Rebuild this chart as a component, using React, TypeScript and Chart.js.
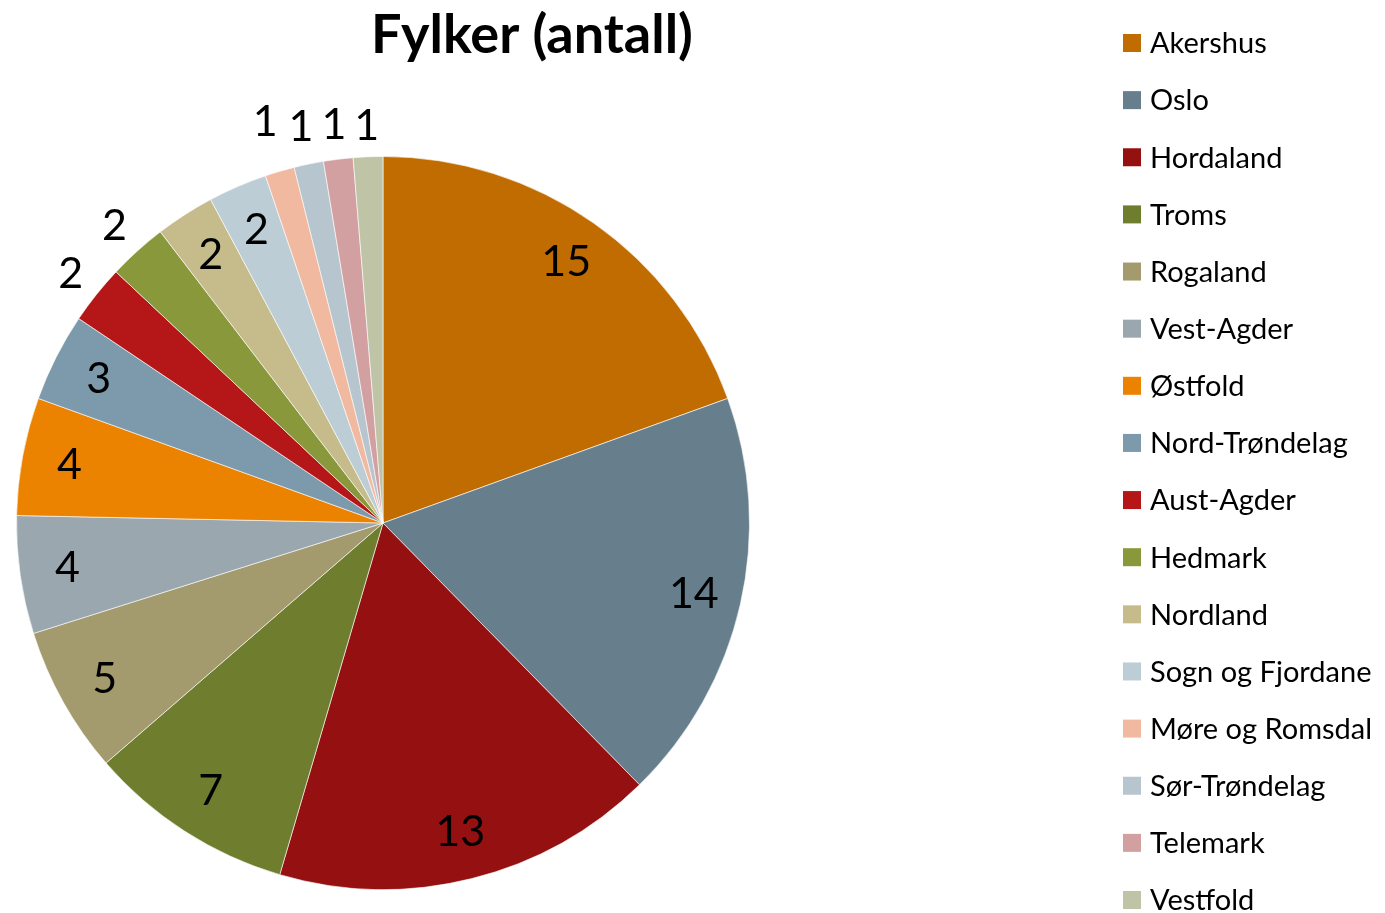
import React, { useEffect, useRef } from "react";
import { Chart, registerables } from "chart.js";

Chart.register(...registerables);

const titleText = "Fylker (antall)";
const categories = [
  "Akershus", "Oslo", "Hordaland", "Troms", "Rogaland", "Vest-Agder", "Østfold",
  "Nord-Trøndelag", "Aust-Agder", "Hedmark", "Nordland", "Sogn og Fjordane",
  "Møre og Romsdal", "Sør-Trøndelag", "Telemark", "Vestfold",
];
const counts = [15, 14, 13, 7, 5, 4, 4, 3, 2, 2, 2, 2, 1, 1, 1, 1];
const sliceColors = [
  "#C06C00", "#677F8C", "#951010", "#6E7D2E", "#A39A6E", "#9AA7AF", "#EB8200",
  "#7C9AAB", "#B51618", "#88983A", "#C6BB8B", "#BDCDD5", "#F0B9A0", "#B7C5CE",
  "#D3A0A2", "#BEC4A5",
];
// label distance (fraction of radius) for slices whose value sits outside the pie
const outsideLabelRadius: Record<string, number> = {
  "Aust-Agder": 1.09,
  "Hedmark": 1.093,
  "Møre og Romsdal": 1.14,
  "Sør-Trøndelag": 1.104,
  "Telemark": 1.095,
  "Vestfold": 1.085,
};

const FONT = "Lato, 'Open Sans', sans-serif";

const decorPlugin = {
  id: "decor",
  afterDatasetsDraw(chart: any) {
    const ctx = chart.ctx;
    const meta = chart.getDatasetMeta(0);
    ctx.save();
    ctx.fillStyle = "#000";
    ctx.font = `43px ${FONT}`;
    ctx.textAlign = "center";
    ctx.textBaseline = "middle";
    meta.data.forEach((arc: any, i: number) => {
      const p = arc.getProps(["x", "y", "startAngle", "endAngle", "outerRadius"], true);
      const mid = (p.startAngle + p.endAngle) / 2;
      const f = outsideLabelRadius[categories[i]] ?? 0.87;
      const r = p.outerRadius * f;
      ctx.fillText(String(counts[i]), p.x + Math.cos(mid) * r, p.y + Math.sin(mid) * r);
    });
    ctx.restore();
  },
  afterDraw(chart: any) {
    const ctx = chart.ctx;
    ctx.save();
    ctx.fillStyle = "#000";
    ctx.font = `bold 54px ${FONT}`;
    ctx.textAlign = "center";
    ctx.textBaseline = "middle";
    ctx.fillText(titleText, 532, 36);
    ctx.font = `29px ${FONT}`;
    ctx.textAlign = "left";
    const step = (900 - 43) / (categories.length - 1);
    categories.forEach((c, i) => {
      const cy = 43 + i * step;
      ctx.fillStyle = sliceColors[i];
      ctx.fillRect(1123, cy - 9, 18, 18);
      ctx.fillStyle = "#000";
      ctx.fillText(c, 1150, cy + 1);
    });
    ctx.restore();
  },
};

export default function App() {
  const ref = useRef<HTMLCanvasElement | null>(null);
  useEffect(() => {
    if (!ref.current) return;
    const chart = new Chart(ref.current, {
      type: "pie",
      data: {
        labels: categories,
        datasets: [
          {
            data: counts,
            backgroundColor: sliceColors,
            borderColor: "rgba(255,255,255,0.6)",
            borderWidth: 1,
          },
        ],
      },
      options: {
        animation: false,
        responsive: true,
        maintainAspectRatio: false,
        layout: { padding: { left: 16, right: 635, top: 156, bottom: 23 } },
        plugins: {
          legend: { display: false },
          title: { display: false },
          tooltip: { enabled: false },
        },
      },
      plugins: [decorPlugin],
    });
    return () => chart.destroy();
  }, []);
  return (
    <div style={{ position: "fixed", left: 0, top: 0, width: 1385, height: 913, background: "#fff" }}>
      <canvas ref={ref} />
    </div>
  );
}
